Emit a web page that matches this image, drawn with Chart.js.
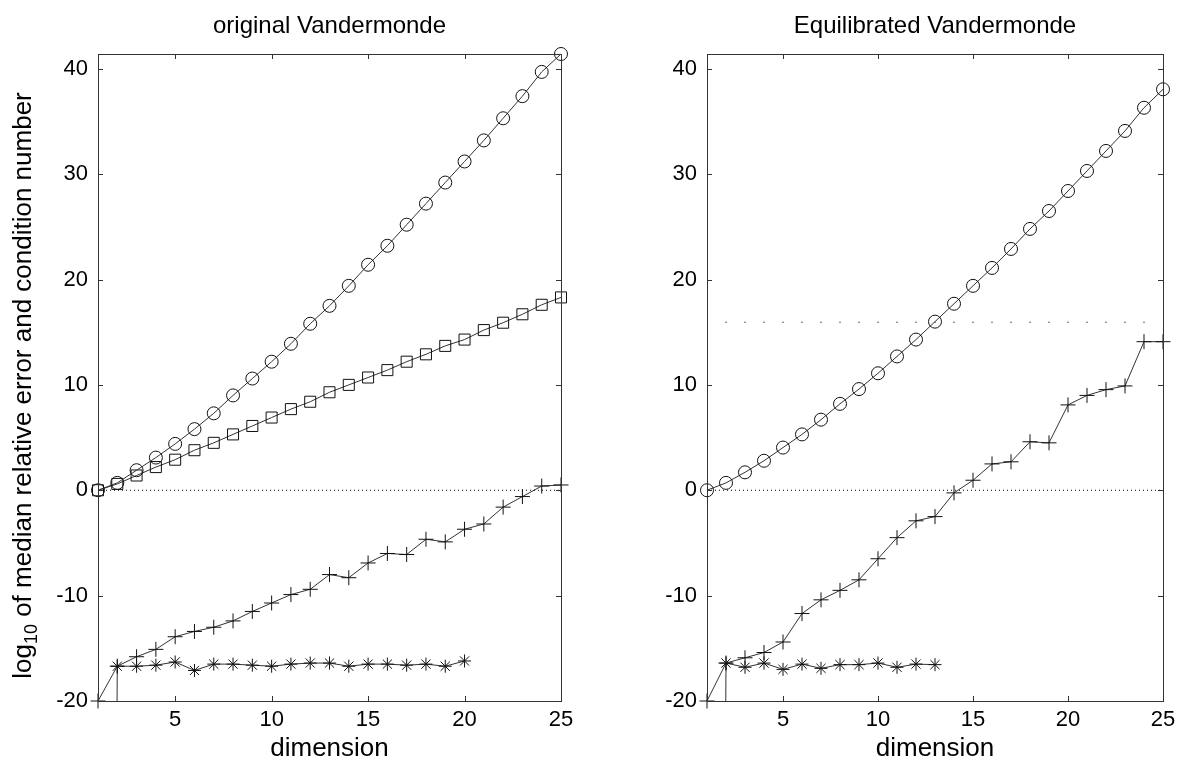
<!DOCTYPE html>
<html>
<head>
<meta charset="utf-8">
<script src="https://cdn.jsdelivr.net/npm/chart.js@4"></script>
<style>
  body { margin: 0; background: #fff; }
  #wrap { position: relative; width: 1186px; height: 764px; }
  canvas { position: absolute; top: 0; }
</style>
</head>
<body>
<div id="wrap">
  <canvas id="leftCanvas" width="600" height="764" style="left:0px"></canvas>
  <canvas id="rightCanvas" width="586" height="764" style="left:600px"></canvas>
</div>
<script>
const dims = [1,2,3,4,5,6,7,8,9,10,11,12,13,14,15,16,17,18,19,20,21,22,23,24,25];
const xTicks = [5, 10, 15, 20, 25];
const yTicks = [-20, -10, 0, 10, 20, 30, 40];
const yMin = -20, yMax = 41.4;

// original Vandermonde
const origCond = [0, 0.7, 1.9, 3.1, 4.4, 5.8, 7.3, 9.0, 10.6, 12.2, 13.9, 15.8, 17.5, 19.4, 21.4, 23.2, 25.2, 27.2, 29.2, 31.2, 33.2, 35.3, 37.4, 39.7, 41.4];
const origSquares = [0, 0.6, 1.4, 2.2, 2.9, 3.8, 4.5, 5.3, 6.1, 6.9, 7.7, 8.4, 9.3, 10.0, 10.7, 11.4, 12.2, 12.9, 13.7, 14.3, 15.2, 15.9, 16.7, 17.6, 18.3];
const origPlus = [-20, -16.7, -15.8, -15.1, -13.9, -13.4, -13.0, -12.4, -11.5, -10.7, -9.9, -9.4, -8.0, -8.3, -6.9, -6.0, -6.1, -4.65, -4.9, -3.7, -3.2, -1.6, -0.6, 0.4, 0.5];
const origStar = [-307, -16.7, -16.7, -16.6, -16.3, -17.1, -16.5, -16.5, -16.6, -16.7, -16.5, -16.4, -16.4, -16.7, -16.5, -16.5, -16.6, -16.5, -16.7, -16.2];

// equilibrated Vandermonde
const equiCond = [0, 0.7, 1.7, 2.8, 4.05, 5.3, 6.7, 8.2, 9.6, 11.1, 12.7, 14.3, 16.0, 17.7, 19.4, 21.1, 22.9, 24.8, 26.5, 28.4, 30.3, 32.2, 34.1, 36.3, 38.05];
const equiPlus = [-20, -16.4, -15.9, -15.4, -14.4, -11.7, -10.4, -9.5, -8.5, -6.5, -4.5, -2.9, -2.5, -0.25, 0.95, 2.5, 2.7, 4.6, 4.5, 8.1, 9.0, 9.55, 9.9, 14.1, 14.1];
const equiStar = [-307, -16.4, -16.8, -16.4, -17.0, -16.5, -16.9, -16.55, -16.55, -16.4, -16.8, -16.5, -16.55];
const epsDims = [2,3,4,5,6,7,8,9,10,11,12,13,14,15,16,17,18,19,20,21,22,23,24];
const epsLevel = 15.95;

const ink = '#000';
const lineGray = '#333';
const fontFam = '"Liberation Sans", Arial, Helvetica, sans-serif';

function pts(ys, xs) {
  xs = xs || dims;
  return ys.map((y, i) => ({ x: xs[i], y: y }));
}

function zeroLine() {
  return { data: [{ x: 1, y: 0 }, { x: 25, y: 0 }], borderColor: ink, borderWidth: 1,
           borderDash: [1, 3], pointRadius: 0, clip: false };
}

function series(ys, style, radius, clip) {
  return {
    data: pts(ys), borderColor: lineGray, borderWidth: 1, tension: 0,
    pointStyle: style, pointRadius: radius, pointBorderWidth: 1,
    pointBorderColor: '#111', pointBackgroundColor: 'rgba(0,0,0,0)',
    clip: clip === undefined ? false : clip
  };
}

// box, inward ticks, title and axis labels like the MATLAB figure
function framePlugin(title, withYLabel) {
  return {
    id: 'frame',
    afterDraw(chart) {
      const ctx = chart.ctx;
      const a = chart.chartArea;
      const xs = chart.scales.x, ys = chart.scales.y;
      ctx.save();
      ctx.strokeStyle = '#333';
      ctx.lineWidth = 1;
      ctx.strokeRect(Math.round(a.left) + 0.5, Math.round(a.top) + 0.5,
                     Math.round(a.right - a.left), Math.round(a.bottom - a.top));
      ctx.beginPath();
      xTicks.forEach(v => {
        const px = Math.round(xs.getPixelForValue(v)) + 0.5;
        ctx.moveTo(px, a.bottom); ctx.lineTo(px, a.bottom - 5);
        ctx.moveTo(px, a.top); ctx.lineTo(px, a.top + 5);
      });
      yTicks.forEach(v => {
        const py = Math.round(ys.getPixelForValue(v)) + 0.5;
        ctx.moveTo(a.left, py); ctx.lineTo(a.left + 5, py);
        ctx.moveTo(a.right, py); ctx.lineTo(a.right - 5, py);
      });
      ctx.stroke();

      ctx.fillStyle = ink;
      ctx.textAlign = 'center';
      ctx.textBaseline = 'middle';
      const cx = (a.left + a.right) / 2;
      ctx.font = '24px ' + fontFam;
      ctx.fillText(title, cx, 26);
      ctx.font = '26px ' + fontFam;
      ctx.fillText('dimension', cx, 749);

      if (withYLabel) {
        const main1 = 'log', sub = '10', main2 = ' of median relative error and condition number';
        ctx.translate(24, (a.top + a.bottom) / 2 + 8);
        ctx.rotate(-Math.PI / 2);
        ctx.textAlign = 'left';
        ctx.font = '26px ' + fontFam;
        const w1 = ctx.measureText(main1).width;
        const w2 = ctx.measureText(main2).width;
        ctx.font = '18px ' + fontFam;
        const ws = ctx.measureText(sub).width;
        let x0 = -(w1 + ws + w2) / 2;
        ctx.font = '26px ' + fontFam;
        ctx.fillText(main1, x0, 0);
        ctx.font = '18px ' + fontFam;
        ctx.fillText(sub, x0 + w1, 8);
        ctx.font = '26px ' + fontFam;
        ctx.fillText(main2, x0 + w1 + ws, 0);
      }
      ctx.restore();
    }
  };
}

function makeChart(canvasId, datasets, title, withYLabel, yWidth, padRight) {
  return new Chart(document.getElementById(canvasId), {
    type: 'line',
    data: { datasets: datasets },
    options: {
      responsive: false,
      animation: false,
      events: [],
      layout: { padding: { top: 54, right: padRight, bottom: 0, left: 0 } },
      plugins: { legend: { display: false }, tooltip: { enabled: false }, title: { display: false } },
      scales: {
        x: {
          type: 'linear', min: 1, max: 25,
          grid: { display: false, drawTicks: false }, border: { display: false },
          ticks: { color: ink, font: { family: fontFam, size: 22 }, padding: 6, maxRotation: 0, autoSkip: false },
          afterBuildTicks: s => { s.ticks = xTicks.map(v => ({ value: v })); },
          afterFit: s => { s.height = 63; }
        },
        y: {
          type: 'linear', min: yMin, max: yMax,
          grid: { display: false, drawTicks: false }, border: { display: false },
          ticks: { color: ink, font: { family: fontFam, size: 22 }, padding: 10, autoSkip: false },
          afterBuildTicks: s => { s.ticks = yTicks.map(v => ({ value: v })); },
          afterFit: s => { s.width = yWidth; }
        }
      }
    },
    plugins: [framePlugin(title, withYLabel)]
  });
}

const starClip = { left: 20, right: 20, top: 20, bottom: 0 };

makeChart('leftCanvas', [
  zeroLine(),
  series(origCond, 'circle', 6.5),
  series(origSquares, 'rect', 7.8),
  series(origPlus, 'cross', 7.5),
  series(origStar, 'star', 6.5, starClip)
], 'original Vandermonde', true, 98, 39);

makeChart('rightCanvas', [
  zeroLine(),
  { data: pts(epsDims.map(() => epsLevel), epsDims), showLine: false, pointRadius: 0.8,
    pointStyle: 'circle', pointBackgroundColor: '#555', pointBorderWidth: 0, clip: false },
  series(equiCond, 'circle', 6.5),
  series(equiPlus, 'cross', 7.5),
  series(equiStar, 'star', 6.5, starClip)
], 'Equilibrated Vandermonde', false, 107, 23);
</script>
</body>
</html>
